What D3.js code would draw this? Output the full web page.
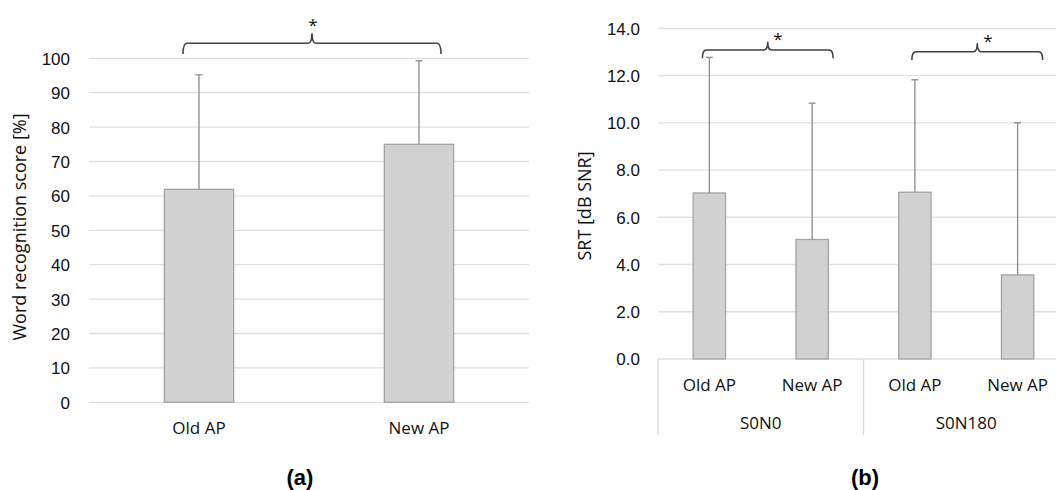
<!DOCTYPE html>
<html>
<head>
<meta charset="utf-8">
<script src="https://cdn.jsdelivr.net/npm/d3@7"></script>
<style>
  body { margin: 0; background: #fff; }
  svg { display: block; font-family: "Open Sans", sans-serif; }
  .grid line { stroke: #e0e0e0; stroke-width: 1.3; }
  .tick text { fill: #111; font-size: 17px; }
  .bar { fill: #d0d1d0; stroke: #a3a3a3; stroke-width: 1.3; }
  .err { stroke: #8c8c8c; stroke-width: 1.3; fill: none; }
  .brace { stroke: #404040; stroke-width: 1.6; fill: none; }
  .lbl { fill: #111; font-size: 17px; }
  .panel { font-family: "Liberation Sans", Arial, sans-serif; font-weight: bold; font-size: 22px; fill: #000; }
</style>
</head>
<body>
<svg id="chart" width="1056" height="490"></svg>
<script>
// panel (a): word recognition score
var catsA = ['Old AP', 'New AP'];
var meanA = [61.9, 75.0];
var errA = [33.3, 24.3];
var ticksA = [0, 10, 20, 30, 40, 50, 60, 70, 80, 90, 100];

// panel (b): SRT
var catsB = ['Old AP', 'New AP', 'Old AP', 'New AP'];
var groupsB = ['S0N0', 'S0N180'];
var meanB = [7.03, 5.06, 7.06, 3.56];
var errB = [5.74, 5.77, 4.76, 6.44];
var ticksB = [0, 2, 4, 6, 8, 10, 12, 14];

var svg = d3.select('#chart');
var barRatio = 0.315;

var brace = function(g, x0, x1, yEnd, yTop, yTip, xc){
  var r = 4;
  var p = d3.path();
  p.moveTo(x0, yEnd);
  p.quadraticCurveTo(x0, yTop, x0 + r, yTop);
  p.lineTo(xc - r, yTop);
  p.quadraticCurveTo(xc, yTop, xc, yTip);
  p.quadraticCurveTo(xc, yTop, xc + r, yTop);
  p.lineTo(x1 - r, yTop);
  p.quadraticCurveTo(x1, yTop, x1, yEnd);
  g.append('path').attr('class', 'brace').attr('d', p.toString());
};

var drawBars = function(g, x, y, keys, means, errs){
  var bw = x.bandwidth() * barRatio;
  var idx = d3.range(means.length);
  g.selectAll('rect.bar').data(idx).join('rect')
    .attr('class', 'bar')
    .attr('x', function(i){ return x(keys[i]) + x.bandwidth() / 2 - bw / 2; })
    .attr('y', function(i){ return y(means[i]); })
    .attr('width', bw)
    .attr('height', function(i){ return y(0) - y(means[i]); });
  var e = g.selectAll('g.e').data(idx).join('g').attr('class', 'e');
  e.append('line').attr('class', 'err')
    .attr('x1', function(i){ return x(keys[i]) + x.bandwidth() / 2; })
    .attr('x2', function(i){ return x(keys[i]) + x.bandwidth() / 2; })
    .attr('y1', function(i){ return y(means[i]); })
    .attr('y2', function(i){ return y(means[i] + errs[i]); });
  e.append('line').attr('class', 'err')
    .attr('x1', function(i){ return x(keys[i]) + x.bandwidth() / 2 - 3.5; })
    .attr('x2', function(i){ return x(keys[i]) + x.bandwidth() / 2 + 3.5; })
    .attr('y1', function(i){ return y(means[i] + errs[i]); })
    .attr('y2', function(i){ return y(means[i] + errs[i]); });
};

// ---------- panel (a)
(function(){
  var left = 89, right = 529;
  var x = d3.scaleBand().domain(catsA).range([left, right]);
  var y = d3.scaleLinear().domain([0, 100]).range([402.3, 58.3]);
  var g = svg.append('g');

  g.append('g').attr('class', 'grid').selectAll('line').data(ticksA).join('line')
    .attr('x1', left).attr('x2', right)
    .attr('y1', function(d){ return y(d); }).attr('y2', function(d){ return y(d); });

  var ya = g.append('g').attr('transform', 'translate(' + (left - 10) + ',0)')
    .call(d3.axisLeft(y).tickValues(ticksA).tickSize(0).tickPadding(9));
  ya.select('.domain').remove();
  ya.selectAll('text').attr('dy', '0.35em');

  drawBars(g, x, y, catsA, meanA, errA);

  g.selectAll('text.xl').data(catsA).join('text')
    .attr('class', 'lbl xl')
    .attr('x', function(d){ return x(d) + x.bandwidth() / 2; })
    .attr('y', 434).attr('text-anchor', 'middle').text(function(d){ return d; });

  g.append('text').attr('class', 'lbl')
    .attr('transform', 'translate(26,' + 227 + ') rotate(-90)')
    .attr('text-anchor', 'middle').style('font-size', '18px').text('Word recognition score [%]');

  var c0 = x(catsA[0]) + x.bandwidth() / 2, c1 = x(catsA[1]) + x.bandwidth() / 2;
  brace(g, c0 - 16, c1 + 22, 54, 43.3, 33.3, 312);
  g.append('text').attr('class', 'lbl').attr('x', 313).attr('y', 31)
    .attr('text-anchor', 'middle').text('*');

  g.append('text').attr('class', 'panel').attr('x', 300).attr('y', 485)
    .attr('text-anchor', 'middle').text('(a)');
})();

// ---------- panel (b)
(function(){
  var left = 658, right = 1069;
  var keys = catsB.map(function(d, i){ return i; });
  var x = d3.scaleBand().domain(keys).range([left, right]);
  var xg = d3.scaleBand().domain(groupsB).range([left, right]);
  var y = d3.scaleLinear().domain([0, 14]).range([359, 28.3]);
  var g = svg.append('g');

  g.append('g').attr('class', 'grid').selectAll('line').data(ticksB).join('line')
    .attr('x1', left).attr('x2', right)
    .attr('y1', function(d){ return y(d); }).attr('y2', function(d){ return y(d); });

  var ya = g.append('g').attr('transform', 'translate(' + (left - 8) + ',0)')
    .call(d3.axisLeft(y).tickValues(ticksB).tickFormat(d3.format('.1f')).tickSize(0).tickPadding(10));
  ya.select('.domain').remove();
  ya.selectAll('text').attr('dy', '0.35em');

  drawBars(g, x, y, keys, meanB, errB);

  // group dividers
  g.selectAll('line.div').data(groupsB.concat(['end'])).join('line')
    .attr('class', 'div')
    .attr('x1', function(d, i){ return left + i * xg.bandwidth(); })
    .attr('x2', function(d, i){ return left + i * xg.bandwidth(); })
    .attr('y1', y(0)).attr('y2', 435)
    .attr('stroke', '#d9d9d9').attr('stroke-width', 1.3);

  g.selectAll('text.xl').data(keys).join('text')
    .attr('class', 'lbl xl')
    .attr('x', function(d){ return x(d) + x.bandwidth() / 2; })
    .attr('y', 391).attr('text-anchor', 'middle').text(function(d){ return catsB[d]; });

  g.selectAll('text.gl').data(groupsB).join('text')
    .attr('class', 'lbl gl')
    .attr('x', function(d){ return xg(d) + xg.bandwidth() / 2; })
    .attr('y', 429).attr('text-anchor', 'middle').text(function(d){ return d; });

  g.append('text').attr('class', 'lbl')
    .attr('transform', 'translate(591,' + 206 + ') rotate(-90)')
    .attr('text-anchor', 'middle').style('font-size', '18px').text('SRT [dB SNR]');

  var cx = function(i){ return x(i) + x.bandwidth() / 2; };
  brace(g, cx(0) - 7, cx(1) + 21, 58.3, 50, 41.7, 767.7);
  g.append('text').attr('class', 'lbl').attr('x', 778).attr('y', 45)
    .attr('text-anchor', 'middle').text('*');
  brace(g, cx(2) - 3, cx(3) + 25, 60, 51.7, 43.3, 977.3);
  g.append('text').attr('class', 'lbl').attr('x', 988).attr('y', 47)
    .attr('text-anchor', 'middle').text('*');

  g.append('text').attr('class', 'panel').attr('x', 865).attr('y', 485)
    .attr('text-anchor', 'middle').text('(b)');
})();
</script>
</body>
</html>
